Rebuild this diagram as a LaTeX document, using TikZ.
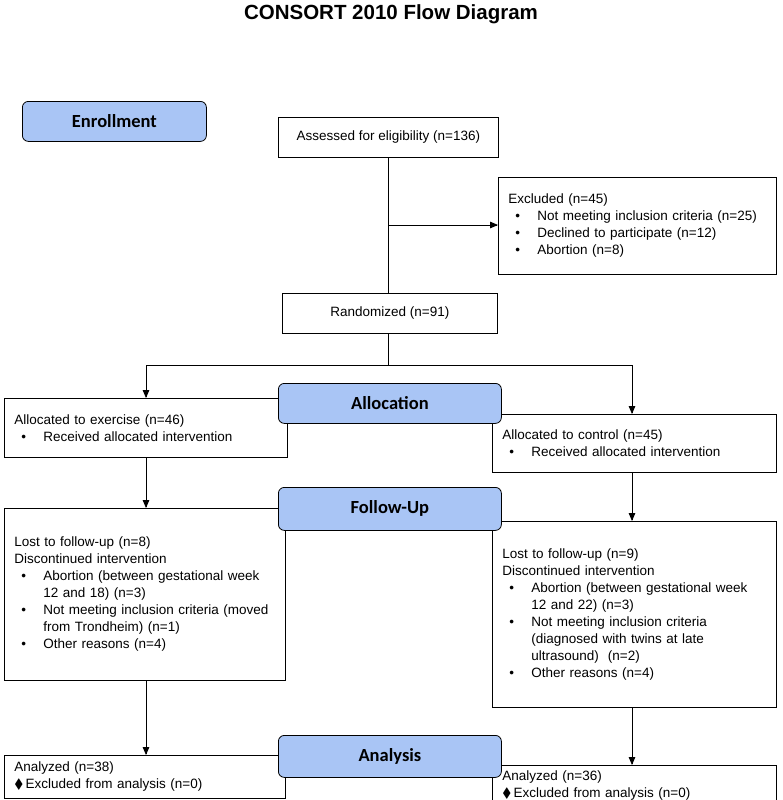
\documentclass[tikz,border=0pt]{standalone}
\usepackage{fontspec}
\usepackage{amssymb}
\setmainfont{Liberation Sans}
\newfontfamily\hdfont{Carlito}
\usetikzlibrary{arrows}
\definecolor{hdblue}{HTML}{A9C5F5}
\newcommand\bul[1]{\par\hangindent=29pt\hangafter=1\hspace*{7pt}\makebox[22pt][l]{\textbullet}#1}
\newcommand\dia[1]{\par\hangindent=10pt\hangafter=1$\blacklozenge$\,#1}
\begin{document}
\begin{tikzpicture}[x=1pt,y=-1pt,>=triangle 45,thick,
    every node/.style={font=\fontsize{13.5}{17}\selectfont},
    box/.style={draw,line width=0.8pt,anchor=north west,inner sep=0pt,fill=white},
    txt/.style={box,align=left,inner xsep=10pt,inner ysep=3pt},
    stage/.style={box,rounded corners=6pt,fill=hdblue,align=center,
      font=\hdfont\bfseries\fontsize{18.5}{20}\selectfont},
    line/.style={line width=0.8pt}]
  \useasboundingbox (0,0) rectangle (782,800);
  \node[font=\bfseries\fontsize{20.5}{24}\selectfont] (title) at (391,14) {CONSORT 2010 Flow Diagram};
  % boxes
  \node[box,minimum width=220,minimum height=40] (assess) at (278,117) {Assessed for eligibility (n=136)};
  \node[txt,text width=258,minimum height=97] (excl) at (498,177) {Excluded (n=45)
    \bul{Not meeting inclusion criteria (n=25)}
    \bul{Declined to participate (n=12)}
    \bul{Abortion (n=8)}};
  \node[box,minimum width=215,minimum height=40] (rand) at (282,293) {Randomized (n=91)};
  \node[txt,text width=263,minimum height=59] (allex) at (4,398) {Allocated to exercise (n=46)
    \bul{Received allocated intervention}};
  \node[txt,text width=264,minimum height=58] (allco) at (492,414) {Allocated to control (n=45)
    \bul{Received allocated intervention}};
  \node[txt,text width=261,minimum height=172] (lostex) at (4,508) {Lost to follow-up (n=8)\\Discontinued intervention
    \bul{Abortion (between gestational week\newline 12 and 18) (n=3)}
    \bul{Not meeting inclusion criteria (moved\newline from Trondheim) (n=1)}
    \bul{Other reasons (n=4)}};
  \node[txt,text width=264,minimum height=186] (lostco) at (492,521) {Lost to follow-up (n=9)\\Discontinued intervention
    \bul{Abortion (between gestational week\newline 12 and 22) (n=3)}
    \bul{Not meeting inclusion criteria\newline (diagnosed with twins at late\newline ultrasound)\ \ (n=2)}
    \bul{Other reasons (n=4)}};
  \node[txt,text width=261,minimum height=43] (anaex) at (4,755) {Analyzed (n=38)
    \dia{Excluded from analysis (n=0)}};
  \node[txt,text width=264,minimum height=40,inner ysep=3pt] (anaco) at (492,765) {Analyzed (n=36)
    \dia{Excluded from analysis (n=0)}};
  % stage headers
  \node[stage,minimum width=184,minimum height=40] (enrol) at (22,101) {Enrollment};
  \node[stage,minimum width=223,minimum height=40] (alloc) at (278,383) {Allocation};
  \node[stage,minimum width=223,minimum height=43] (follow) at (278,487) {Follow-Up};
  \node[stage,minimum width=223,minimum height=42] (anal) at (278,735) {Analysis};
  % connectors
  \coordinate (split) at (388,225);
  \coordinate (fork) at (388,365);
  \coordinate (forkl) at (146,365);
  \coordinate (forkr) at (632,365);
  \draw[line] (assess.south -| split) -- (rand.north -| split);
  \draw[line,->] (split) -- (excl.west |- split);
  \draw[line] (rand.south -| fork) -- (fork);
  \draw[line] (forkl) -- (forkr);
  \draw[line,->] (forkl) -- (allex.north -| forkl);
  \draw[line,->] (forkr) -- (allco.north -| forkr);
  \draw[line,->] (allex.south -| forkl) -- (lostex.north -| forkl);
  \draw[line,->] (allco.south -| forkr) -- (lostco.north -| forkr);
  \draw[line,->] (lostex.south -| forkl) -- (anaex.north -| forkl);
  \draw[line,->] (lostco.south -| forkr) -- (anaco.north -| forkr);
\end{tikzpicture}
\end{document}
